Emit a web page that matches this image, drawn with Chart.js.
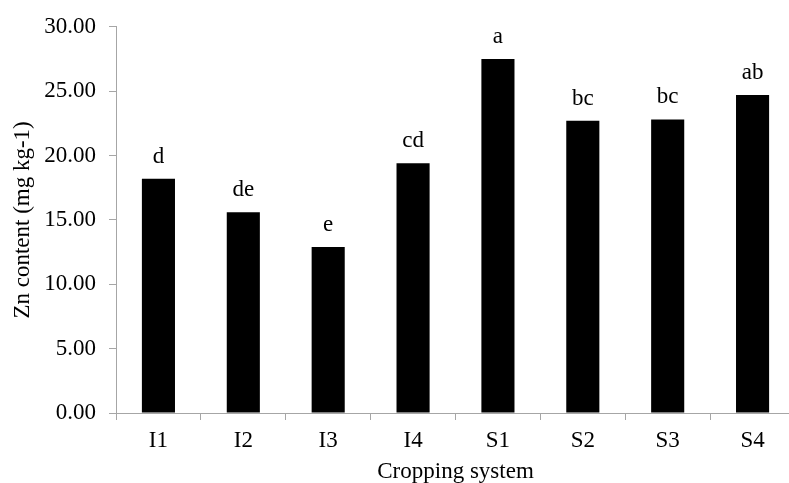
<!DOCTYPE html>
<html>
<head>
<meta charset="utf-8">
<script src="https://cdn.jsdelivr.net/npm/chart.js@4"></script>
<style>
  html, body { margin: 0; padding: 0; background: #fff; overflow: hidden; }
  #wrap { width: 800px; height: 483px; }
</style>
</head>
<body>
<div id="wrap"><canvas id="c" width="800" height="483"></canvas></div>
<script>
// Zn content by cropping system, with significance letters
const categories = ['I1', 'I2', 'I3', 'I4', 'S1', 'S2', 'S3', 'S4'];
const znValues = [18.2, 15.6, 12.9, 19.4, 27.5, 22.7, 22.8, 24.7];
const groupLetters = ['d', 'de', 'e', 'cd', 'a', 'bc', 'bc', 'ab'];
const yTicks = [0, 5, 10, 15, 20, 25, 30];

const axisGray = '#a6a6a6';
const serif = 'Liberation Serif, Times New Roman, serif';
const textSize = 23;

// writes the letter above each bar
const letterLabels = {
  id: 'letterLabels',
  afterDatasetsDraw(chart) {
    const ctx = chart.ctx;
    const meta = chart.getDatasetMeta(0);
    ctx.save();
    ctx.font = textSize + 'px ' + serif;
    ctx.fillStyle = '#000';
    ctx.textAlign = 'center';
    ctx.textBaseline = 'alphabetic';
    meta.data.forEach((bar, i) => {
      ctx.fillText(groupLetters[i], bar.x, bar.y - 16);
    });
    ctx.restore();
  }
};

new Chart(document.getElementById('c'), {
  type: 'bar',
  data: {
    labels: categories,
    datasets: [{
      data: znValues,
      backgroundColor: '#000',
      borderWidth: 0,
      categoryPercentage: 1,
      barPercentage: 0.39
    }]
  },
  options: {
    responsive: false,
    animation: false,
    layout: { padding: { top: 24, right: 5, bottom: 0, left: 0 } },
    plugins: { legend: { display: false }, tooltip: { enabled: false } },
    scales: {
      x: {
        offset: true,
        grid: { offset: true, drawOnChartArea: false, drawTicks: true, tickLength: 7, color: axisGray },
        border: { display: true, color: axisGray, width: 1 },
        ticks: { font: { family: serif, size: textSize }, color: '#000', padding: 7, maxRotation: 0 },
        title: { display: true, text: 'Cropping system', font: { family: serif, size: textSize }, color: '#000', padding: { top: 0, bottom: -3 } },
        afterFit(scale) { scale.height = 70; }
      },
      y: {
        min: 0,
        max: 30,
        afterBuildTicks(scale) { scale.ticks = yTicks.map(v => ({ value: v })); },
        grid: { drawOnChartArea: false, drawTicks: true, tickLength: 7, color: axisGray },
        border: { display: true, color: axisGray, width: 1 },
        ticks: {
          font: { family: serif, size: textSize }, color: '#000', padding: 13,
          callback: v => Number(v).toFixed(2)
        },
        title: { display: true, text: 'Zn content (mg kg-1)', font: { family: serif, size: textSize }, color: '#000', padding: { top: 9, bottom: 0 } },
        afterFit(scale) { scale.width = 116; }
      }
    }
  },
  plugins: [letterLabels]
});
</script>
</body>
</html>
